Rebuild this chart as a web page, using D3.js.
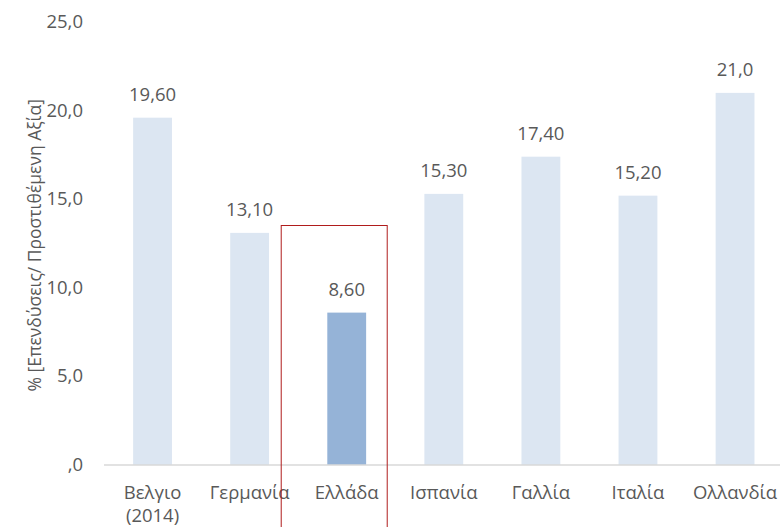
<!DOCTYPE html>
<html>
<head>
<meta charset="utf-8">
<script src="https://cdn.jsdelivr.net/npm/d3@7"></script>
<style>
  body { margin: 0; background: #fff; }
  text { font-family: "Open Sans", "Noto Sans", sans-serif; fill: #595959; }
</style>
</head>
<body>
<div id="chart"></div>
<script>
const countries = ["Βελγιο (2014)", "Γερμανία", "Ελλάδα", "Ισπανία", "Γαλλία", "Ιταλία", "Ολλανδία"];
const values = [19.6, 13.1, 8.6, 15.3, 17.4, 15.2, 21.0];
const valueLabels = ["19,60", "13,10", "8,60", "15,30", "17,40", "15,20", "21,0"];
const yTicks = [0, 5, 10, 15, 20, 25];
const highlight = "Ελλάδα";

const w = 780, h = 527;
const svg = d3.select("#chart").append("svg")
  .attr("width", w)
  .attr("height", h);

const xSc = d3.scaleBand()
  .domain(countries)
  .range([104, 783.6])
  .paddingInner(0.6)
  .paddingOuter(0.3);

const ySc = d3.scaleLinear()
  .domain([0, 25])
  .range([465, 22]);

// y tick labels
svg.selectAll(".ytick")
  .data(yTicks)
  .join("text")
    .attr("class", "ytick")
    .attr("x", 83)
    .attr("y", d => ySc(d) + 6)
    .attr("text-anchor", "end")
    .style("font-size", "18.5px")
    .text(d => d === 0 ? ",0" : d.toFixed(1).replace(".", ","));

// axis title
svg.append("text")
  .attr("transform", `translate(41,${ySc(12.4)}) rotate(-90)`)
  .attr("text-anchor", "middle")
  .style("font-size", "17.5px")
  .text("% [Επενδύσεις/ Προστιθέμενη Αξία]");

// bars
svg.selectAll(".bar")
  .data(countries)
  .join("rect")
    .attr("class", "bar")
    .attr("x", d => xSc(d))
    .attr("width", xSc.bandwidth())
    .attr("y", (d, i) => ySc(values[i]))
    .attr("height", (d, i) => ySc(0) - ySc(values[i]))
    .attr("fill", d => d === highlight ? "#95b3d7" : "#dce6f2");

// x axis line
svg.append("line")
  .attr("x1", 104).attr("x2", w)
  .attr("y1", ySc(0)).attr("y2", ySc(0))
  .attr("stroke", "#d9d9d9")
  .attr("stroke-width", 1.5);

// value labels
svg.selectAll(".vlab")
  .data(countries)
  .join("text")
    .attr("class", "vlab")
    .attr("x", d => xSc(d) + xSc.bandwidth() / 2)
    .attr("y", (d, i) => ySc(values[i]) - 17)
    .attr("text-anchor", "middle")
    .style("font-size", "18.5px")
    .text((d, i) => valueLabels[i]);

// category labels
const cat = svg.selectAll(".clab")
  .data(countries)
  .join("text")
    .attr("class", "clab")
    .attr("x", d => xSc(d) + xSc.bandwidth() / 2)
    .attr("y", 499)
    .attr("text-anchor", "middle")
    .style("font-size", "18.5px");

cat.selectAll("tspan")
  .data(d => d.split(" "))
  .join("tspan")
    .attr("x", function() { return this.parentNode.getAttribute("x"); })
    .attr("dy", (d, i) => i === 0 ? 0 : 23)
    .text(d => d);

// highlight box around Greece
const bx = xSc(highlight) + xSc.bandwidth() / 2;
svg.append("rect")
  .attr("x", bx - 65.5)
  .attr("y", 225.5)
  .attr("width", 106)
  .attr("height", 320)
  .attr("fill", "none")
  .attr("stroke", "#b01c1c")
  .attr("stroke-width", 1);
</script>
</body>
</html>
